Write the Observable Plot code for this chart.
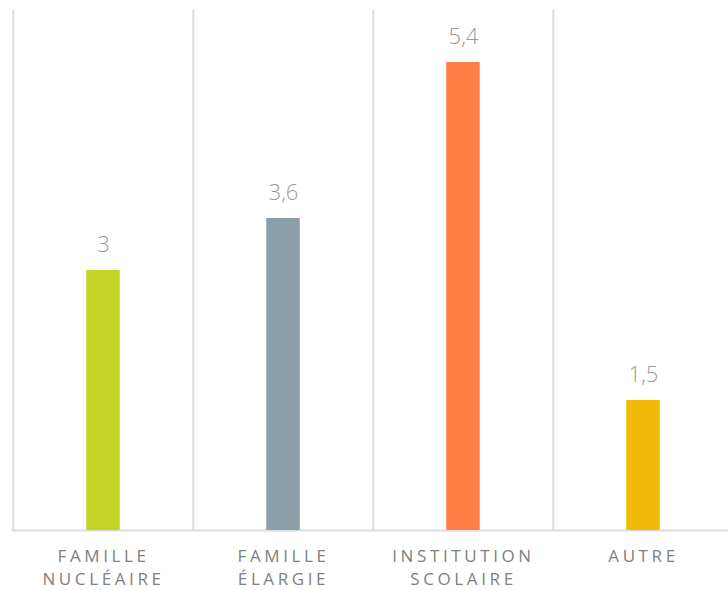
<!DOCTYPE html>
<html>
<head>
<meta charset="utf-8">
<script src="https://cdn.jsdelivr.net/npm/d3@7"></script>
<script src="https://cdn.jsdelivr.net/npm/@observablehq/plot@0.6"></script>
<style>
  body { margin: 0; background: #fff; }
  #chart svg text { font-family: "Open Sans", "DejaVu Sans", sans-serif; }
  #chart .xlabels text { letter-spacing: 3.6px; }
</style>
</head>
<body>
<div id="chart"></div>
<script>
const categories = ["Famille nucléaire", "Famille élargie", "Institution scolaire", "Autre"];
const labels = ["FAMILLE\nNUCLÉAIRE", "FAMILLE\nÉLARGIE", "INSTITUTION\nSCOLAIRE", "AUTRE"];
const values = [3, 3.6, 5.4, 1.5];
const colors = ["#c4d424", "#8b9fa9", "#ff7e46", "#f3b90a"];

const data = categories.map((c, i) => ({ category: c, value: values[i], label: labels[i] }));
const x0 = 12, x1 = 734;
const step = (x1 - x0) / categories.length;

const chart = Plot.plot({
  width: 728,
  height: 590,
  marginTop: 10,
  marginBottom: 60,
  marginLeft: 12,
  marginRight: 0,
  x: { domain: categories, range: [x0, x1], padding: 0 },
  y: { domain: [0, 6], axis: null },
  color: { domain: categories, range: colors },
  marks: [
    Plot.ruleX(categories, { x: d => d, dx: -step / 2, y1: 0, y2: 6, stroke: "#dcdcdc", strokeWidth: 2 }),
    Plot.ruleY([0], { stroke: "#dcdcdc", strokeWidth: 2 }),
    Plot.barY(data, { x: "category", y: "value", fill: "category", insetLeft: (step - 34) / 2, insetRight: (step - 34) / 2 }),
    Plot.text(data, { x: "category", y: "value", text: d => String(d.value).replace(".", ","), dy: -26, fontSize: 22, fill: "#9a9a9a", fontWeight: 300 }),
    Plot.axisX({
      tickSize: 0,
      tickPadding: 15,
      tickFormat: (d, i) => labels[categories.indexOf(d)],
      fontSize: 17,
      lineHeight: 1.36,
      lineAnchor: "top",
      fill: "#808080",
      label: null,
      className: "xlabels"
    })
  ]
});
document.getElementById("chart").appendChild(chart);
</script>
</body>
</html>
